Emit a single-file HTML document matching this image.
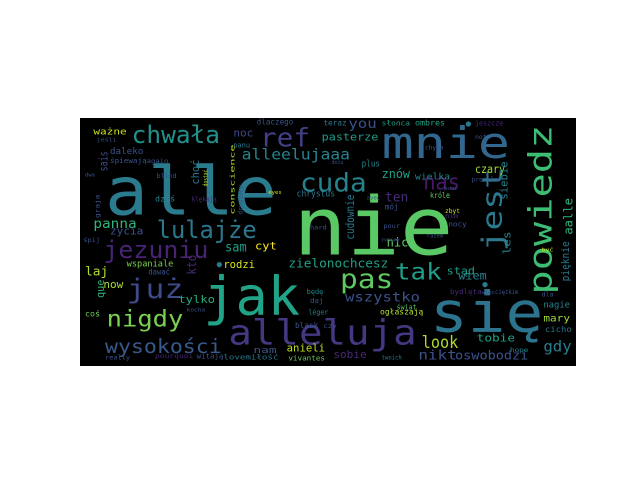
<!DOCTYPE html>
<html><head><meta charset="utf-8"><style>
html,body{margin:0;padding:0;background:#fff;width:640px;height:480px;overflow:hidden}
svg{display:block}
text{font-family:"DejaVu Sans Mono","Liberation Mono",monospace}
</style></head><body>
<svg width="640" height="480" viewBox="0 0 640 480" xmlns="http://www.w3.org/2000/svg">
<rect x="0" y="0" width="640" height="480" fill="#ffffff"/>
<rect x="80" y="118" width="496" height="248" fill="#000000"/>
<g id="cloud" transform="translate(80,118) scale(0.3333333)"></g>
</svg>
<script>
var words = ["alle","nie","mnie","jak","się","alleluja","powiedz","jest","cuda","ref","chwała","lulajże","jezuniu","już","nigdy","wysokości","pas","tak","nas","alleelujaaa","zielonochcesz","wszystko","look","gdy","nikt","oswobodzi","tobie","sobie","anieli","nam","vivantes","lovemiłość","pourquoi","witają","really","panna","życia","laj","wspaniale","rodzi","dawać","now","que","tylko","kto","sam","cyt","cudownie","nic","znów","ten","mój","you","pasterze","noc","dlaczego","teraz","słonca","ombres","jeszcze","ważne","daleko","sais","śpiewają","panu","jeśli","again","blind","choć","dostać","conscience","drugiemu","dziś","klękają","eyes","chrystus","plus","wielka","czary","siebie","chyba","not","prosiłam","jesteś","króle","zbyt","nim","nocy","razem","nowy","pour","hard","avec","dniu","les","aalle","pięknie","stąd","wiem","być","bydlęta","więc","ciężkim","dla","nagie","mary","cicho","hope","świat","ogłaszają","léger","czy","blask","będę","daj","kocha","coś","śpij","dwa","twoich","graja"];
var xs = [75,640,905,370,1050,445,1415,1265,660,540,155,230,70,140,80,75,780,945,1030,485,625,795,1025,1390,1015,1125,1190,760,620,520,625,430,225,350,75,40,90,15,140,430,205,70,72,295,348,435,525,822,920,905,915,915,805,725,460,530,730,905,1005,1185,40,90,83,90,460,50,200,230,357,383,463,487,225,335,565,650,845,1005,1185,1282,1035,1185,1175,1090,1050,1095,1095,1105,1040,905,910,690,860,755,1292,1477,1467,1100,1135,1385,1110,1205,1245,1385,1390,1390,1395,1290,950,900,685,730,645,680,690,320,15,10,15,905,58];
var ys = [290,410,120,590,640,680,530,400,220,85,75,360,420,540,625,705,510,485,215,125,448,550,690,700,725,725,670,720,700,705,727,725,720,722,725,330,350,472,445,450,470,510,540,555,470,400,395,365,385,180,250,275,30,68,55,20,22,22,22,22,50,108,160,135,88,70,135,180,200,205,290,290,250,250,228,235,145,185,165,245,95,63,190,216,240,285,300,325,358,370,330,335,245,138,410,350,490,470,485,400,528,528,528,535,568,610,642,702,575,590,590,630,630,528,555,580,595,372,175,725,300];
var sizes = [250,300,165,200,210,130,120,105,95,95,80,90,90,100,85,65,100,85,75,50,40,45,55,50,45,42,35,35,35,30,22,22,20,22,20,45,35,40,30,35,25,35,35,35,40,45,35,38,40,40,45,25,45,35,35,25,25,22,25,22,30,30,38,22,22,18,20,20,35,20,20,20,25,22,18,28,28,30,38,35,20,20,20,18,25,20,20,22,18,18,20,20,18,18,35,40,35,35,38,18,22,18,20,20,28,32,25,20,22,25,22,20,25,22,22,18,25,20,18,20,20];
var widths = [515,480,385,290,340,565,510,250,200,150,265,300,315,170,230,350,160,140,110,325,300,225,110,85,115,220,115,100,115,70,110,165,115,80,75,130,100,70,140,95,65,60,55,110,60,65,65,135,65,85,70,40,85,170,60,110,70,85,90,85,100,100,60,110,50,60,65,60,75,50,210,90,60,75,40,115,55,105,90,115,55,35,90,40,60,45,40,55,50,55,50,50,40,35,70,110,120,85,85,35,95,40,70,35,80,80,80,55,60,130,60,40,70,50,40,55,45,50,30,60,70];
var colors = ["#2b7b8e","#5ac864","#31678e","#20a386","#2c738e","#453781","#3dbc74","#2a788e","#26828e","#424086","#21918c","#2a778e","#482374","#3e4a89","#7ad151","#38598c","#5ec962","#1f9e89","#481769","#25848e","#1fa187","#3b528b","#addc30","#277f8e","#3b528b","#3b528b","#1fa187","#482878","#c2df23","#3b528b","#6ece58","#2a788e","#482878","#39568c","#3b528b","#2fb47c","#3b528b","#b0dd2f","#7ad151","#d8e219","#3b528b","#a5db36","#2fb47c","#25ab82","#482878","#1f9e89","#fde725","#2a788e","#5ec962","#1fa187","#482878","#3b528b","#3b528b","#1f9e89","#3e4a89","#3b528b","#2a788e","#1fa187","#1fa187","#482878","#d0e11c","#3b528b","#3e4a89","#3b528b","#2a788e","#3b528b","#3b528b","#3b528b","#2a788e","#b8de29","#b8de29","#3b528b","#25848e","#482878","#d8e219","#2a788e","#25848e","#25848e","#a0da39","#25848e","#3b528b","#3b528b","#3b528b","#3b528b","#5ec962","#d8e219","#482878","#3b528b","#3b528b","#3b528b","#3b528b","#3b528b","#3b528b","#3b528b","#25848e","#2fb47c","#2a788e","#1f9e89","#26828e","#d8e219","#482878","#3b528b","#3b528b","#3b528b","#25848e","#a0da39","#2a788e","#25848e","#5ec962","#b5de2b","#25848e","#3b528b","#3b528b","#25848e","#3b528b","#3b528b","#6ece58","#3b528b","#3b528b","#2a788e","#3b528b"];
var rots = [0,0,0,0,0,0,-90,-90,0,0,0,0,0,0,0,0,0,0,0,0,0,0,0,0,0,0,0,0,0,0,0,0,0,0,0,0,0,0,0,0,0,0,-90,0,-90,0,0,-90,0,0,0,0,0,0,0,0,0,0,0,0,0,0,-90,0,0,0,0,0,-90,-90,-90,-90,0,0,0,0,0,0,0,-90,0,0,0,0,0,0,0,0,0,0,0,0,0,0,-90,-90,-90,0,0,0,0,0,0,0,0,0,0,0,0,0,0,0,0,0,0,0,0,0,0,0,-90];
var g = document.getElementById('cloud');
var NS = 'http://www.w3.org/2000/svg';
for (var i = 0; i < words.length; i++) {
  var t = document.createElementNS(NS, 'text');
  
  
  t.setAttribute('x', 0);
  t.setAttribute('y', 0);
  var f = sizes[i] > 80 ? 0.8 : 0.9;
  t.setAttribute('font-size', sizes[i] * f);
  t.setAttribute('fill', colors[i]);
  if (widths[i]) {
    t.setAttribute('textLength', widths[i]);
    t.setAttribute('lengthAdjust', 'spacingAndGlyphs');
  }
  t.setAttribute('transform', 'translate(' + xs[i] + ',' + ys[i] + ') rotate(' + rots[i] + ')');
  t.textContent = words[i];
  g.appendChild(t);
}
var dots = [[1165,18],[418,440],[1215,500]];
for (var j = 0; j < dots.length; j++) {
  var c = document.createElementNS(NS, 'circle');
  
  
  c.setAttribute('cx', dots[j][0]);
  c.setAttribute('cy', dots[j][1]);
  c.setAttribute('r', 8);
  c.setAttribute('fill', '#2a788e');
  g.appendChild(c);
}
</script>
</body></html>
